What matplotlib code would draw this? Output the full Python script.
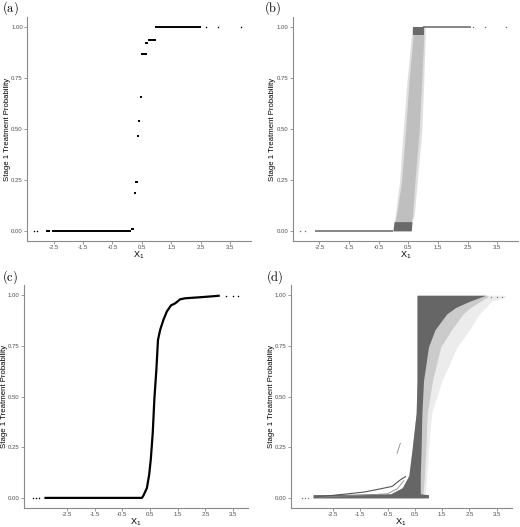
import numpy as np
import matplotlib
matplotlib.use("Agg")
import matplotlib.pyplot as plt

plt.rcParams['font.family'] = ['Liberation Sans', 'DejaVu Sans']
plt.rcParams['mathtext.fontset'] = 'cm'
plt.rcParams['axes.unicode_minus'] = False

# ---- panel (a): step-like clusters (y level, x from, x to)
a_levels = [0.0, 0.0, 0.008, 0.186, 0.24, 0.467, 0.54, 0.658, 0.87, 0.922, 0.935, 1.0, 1.0]
a_xstart = [-2.76, -2.55, 0.13, 0.22, 0.28, 0.32, 0.36, 0.43, 0.47, 0.61, 0.71, 0.93, 2.3]
a_xend = [-2.62, 0.13, 0.24, 0.30, 0.36, 0.40, 0.44, 0.50, 0.66, 0.71, 0.96, 2.3, 2.52]
a_pts_x = [-3.17, -3.06, 2.68, 3.08, 3.85]
a_pts_y = [0.0, 0.0, 1.0, 1.0, 1.0]

# ---- panel (b): scattered band between two edges
b_band_y = [0.0, 0.045, 0.077, 0.24, 0.48, 0.73, 0.956, 1.0]
b_outer_l = [-0.02, 0.02, 0.06, 0.20, 0.32, 0.45, 0.60, 0.62]
b_outer_r = [0.60, 0.64, 0.70, 0.80, 0.95, 1.02, 1.07, 1.07]
b_core_l = [0.0, 0.05, 0.10, 0.27, 0.40, 0.52, 0.66, 0.67]
b_core_r = [0.56, 0.60, 0.64, 0.72, 0.86, 0.95, 1.02, 1.02]
b_zero_x = [-2.64, -0.02]
b_one_x = [0.99, 2.63]
b_pts_x = [-3.14, -2.98, 2.68, 3.08, 3.81]
b_pts_y = [0.0, 0.0, 1.0, 1.0, 1.0]

# ---- panel (c): smooth logistic-like curve
c_x = [-3.31, 0.21, 0.27, 0.39, 0.47, 0.53, 0.60, 0.66, 0.73, 0.79, 0.87, 0.99,
       1.11, 1.26, 1.41, 1.59, 1.77, 2.30, 2.78, 3.02]
c_y = [0.0, 0.0, 0.013, 0.049, 0.113, 0.19, 0.32, 0.49, 0.63, 0.78, 0.83, 0.88,
       0.92, 0.95, 0.96, 0.98, 0.985, 0.99, 0.995, 0.998]
c_pts_x = [-3.73, -3.61, -3.49, 3.26, 3.50, 3.68]
c_pts_y = [0.0, 0.0, 0.0, 0.998, 0.998, 0.998]

# ---- panel (d): dense region, fading fan of curves and stray curves
d_y = [0.0, 0.016, 0.02, 0.05, 0.11, 0.24, 0.42, 0.58, 0.745, 0.83, 0.908, 0.94, 0.97, 0.99, 1.0]
d_dark_l = [-3.23, -3.23, -0.39, 0.04, 0.28, 0.40, 0.55, 0.58, 0.58, 0.58, 0.58, 0.58, 0.58, 0.58, 0.58]
d_dark_r = [1.00, 1.00, 0.70, 0.70, 0.70, 0.73, 0.76, 0.82, 1.00, 1.24, 1.67, 2.0, 2.5, 2.9, 3.1]
d_mid_r = [0.80, 0.80, 0.80, 0.82, 0.85, 0.90, 0.96, 1.15, 1.45, 1.85, 2.27, 2.55, 2.9, 3.15, 3.2]
d_fan_r = [0.88, 0.88, 0.88, 0.90, 0.94, 1.0, 1.12, 1.50, 2.05, 2.51, 2.87, 3.1, 3.3, 3.8, 3.84]
d_curve1_x = [-3.0, -1.35, -0.75, -0.33, -0.03, 0.16]
d_curve1_y = [0.005, 0.029, 0.045, 0.057, 0.089, 0.105]
d_curve2_x = [-3.0, -0.51, -0.14, 0.10]
d_curve2_y = [0.003, 0.02, 0.045, 0.085]
d_curve3_x = [-0.15, -0.03]
d_curve3_y = [0.22, 0.27]
d_pts_x = [-3.65, -3.53, -3.41, 3.30, 3.50, 3.68]
d_pts_y = [0.0, 0.0, 0.0, 0.99, 0.99, 0.99]

xticks = [-2.5, -1.5, -0.5, 0.5, 1.5, 2.5, 3.5]
yticks = [0.0, 0.25, 0.5, 0.75, 1.0]
ytick_labels = ["0.00", "0.25", "0.50", "0.75", "1.00"]


def style_axis(ax, xlim):
    ax.set_xlim(*xlim)
    ax.set_ylim(-0.05, 1.05)
    ax.set_xticks(xticks)
    ax.set_xticklabels([str(t) for t in xticks])
    ax.set_yticks(yticks)
    ax.set_yticklabels(ytick_labels)
    for s in ['top', 'right']:
        ax.spines[s].set_visible(False)
    for s in ['left', 'bottom']:
        ax.spines[s].set_color('#8a8a8a')
        ax.spines[s].set_linewidth(0.8)
    ax.tick_params(length=2, width=0.6, color='#8a8a8a', labelsize=4.3,
                   labelcolor='#4d4d4d', pad=1.0)
    ax.set_xlabel(r'$\mathregular{X_1}$', fontsize=6.6)
    ax.xaxis.set_label_coords(0.5, -0.04)
    ax.xaxis.label.set_va('top')
    ax.set_ylabel('Stage 1 Treatment Probability', fontsize=5.6)
    ax.yaxis.set_label_coords(-0.088, 0.5)
    ax.yaxis.label.set_va('center')


fig = plt.figure(figsize=(5.2, 5.27), dpi=100)
ax_a = fig.add_axes([0.052, 0.5427, 0.4307, 0.425])
ax_b = fig.add_axes([0.5629, 0.5427, 0.4333, 0.425])
ax_c = fig.add_axes([0.046, 0.036, 0.4315, 0.423])
ax_d = fig.add_axes([0.559, 0.036, 0.425, 0.423])

# (a)
ax_a.hlines(a_levels, a_xstart, a_xend, color='black', lw=1.4)
ax_a.scatter(a_pts_x, a_pts_y, s=1.2, color='black', lw=0)
style_axis(ax_a, (-3.4, 4.2))

# (b)
ax_b.fill_betweenx(b_band_y, b_outer_l, b_outer_r, color='#a0a0a0', alpha=0.33, lw=0)
ax_b.fill_betweenx(b_band_y, b_core_l, b_core_r, color='#808080', alpha=0.33, lw=0)
ax_b.fill_betweenx([0.0, 0.045], [-0.02, 0.02], [0.60, 0.62], color='#6a6a6a', lw=0)
ax_b.fill_betweenx([0.96, 1.0], [0.67, 0.67], [1.02, 1.02], color='#6a6a6a', lw=0)
ax_b.hlines([0.0, 1.0], [b_zero_x[0], b_one_x[0]], [b_zero_x[1], b_one_x[1]],
            color='#666666', lw=1.1)
ax_b.scatter(b_pts_x, b_pts_y, s=1.0, color='#666666', lw=0)
style_axis(ax_b, (-3.4, 4.2))

# (c)
ax_c.plot(c_x, c_y, color='black', lw=1.6, solid_capstyle='butt')
ax_c.scatter(c_pts_x, c_pts_y, s=1.2, color='black', lw=0)
style_axis(ax_c, (-4.05, 4.05))

# (d)
ax_d.fill_betweenx(d_y, d_dark_l, d_fan_r, color='#b4b4b4', alpha=0.25, lw=0)
ax_d.fill_betweenx(d_y, d_dark_l, d_mid_r, color='#909090', alpha=0.35, lw=0)
ax_d.fill_betweenx(d_y, d_dark_l, d_dark_r, color='#666666', lw=0)
ax_d.plot(d_curve1_x, d_curve1_y, color='#555555', lw=0.8)
ax_d.plot(d_curve2_x, d_curve2_y, color='#888888', lw=0.6)
ax_d.plot(d_curve3_x, d_curve3_y, color='#888888', lw=0.6)
ax_d.scatter(d_pts_x, d_pts_y, s=1.0, color='#777777', lw=0)
style_axis(ax_d, (-4.05, 4.05))

# panel tags
for tag, (x, y) in zip(['a', 'b', 'c', 'd'],
                       [(0.004, 0.985), (0.508, 0.985), (0.004, 0.475), (0.512, 0.475)]):
    fig.text(x, y, r'$\mathrm{(%s)}$' % tag, fontsize=9, va='center', ha='left')

fig.savefig('out.png', dpi=100)
